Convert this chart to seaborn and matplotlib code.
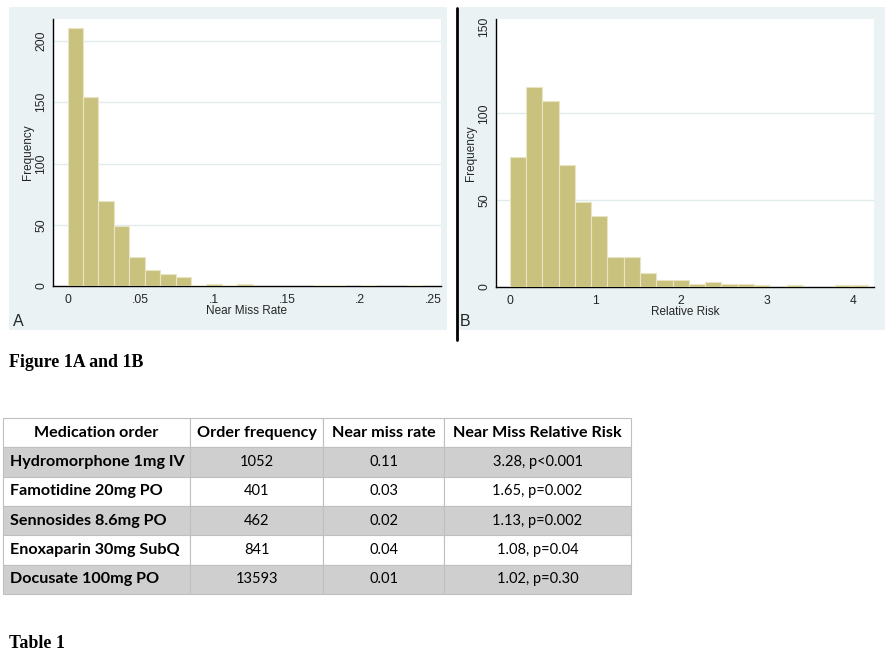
import matplotlib
matplotlib.use("Agg")

import numpy as np
import pandas as pd
import matplotlib.pyplot as plt
import seaborn as sns
from matplotlib.patches import Rectangle
from matplotlib.lines import Line2D

# Figure 1A: near miss rate histogram (counts per bin)
rate_bin_width = 0.01055
rate_counts = [211, 154, 69, 49, 24, 13, 10, 7, 1, 2, 1, 2,
               0, 0, 0, 0, 1, 1, 0, 1, 0, 0, 1]
rate_ticks = [0, 0.05, 0.1, 0.15, 0.2, 0.25]
rate_tick_labels = ["0", ".05", ".1", ".15", ".2", ".25"]
freq_ticks_a = [0, 50, 100, 150, 200]

# Figure 1B: relative risk histogram
rr_bin_width = 0.19
rr_counts = [75, 115, 107, 70, 49, 41, 17, 17, 8, 4, 4, 2,
             3, 2, 2, 1, 0, 1, 0, 0, 1, 1]
rr_ticks = [0, 1, 2, 3, 4]
freq_ticks_b = [0, 50, 100, 150]

# Table 1
table_header = ["Medication order", "Order frequency", "Near miss rate",
                "Near Miss Relative Risk"]
medications = ["Hydromorphone 1mg IV", "Famotidine 20mg PO", "Sennosides 8.6mg PO",
               "Enoxaparin 30mg SubQ", "Docusate 100mg PO"]
order_freq = [1052, 401, 462, 841, 13593]
near_miss_rate = [0.11, 0.03, 0.02, 0.04, 0.01]
relative_risk = ["3.28, p<0.001", "1.65, p=0.002", "1.13, p=0.002",
                 "1.08, p=0.04", "1.02, p=0.30"]

W, H = 892, 660
BAR = "#c9c27f"
BAR_EDGE = "#e9e5c4"
PANEL_BG = "#eaf2f3"
GRID = "#e2ecee"
STATA_FONT = "Liberation Sans"

sns.set_style("white")
plt.rcParams["font.family"] = [STATA_FONT, "DejaVu Sans"]

fig = plt.figure(figsize=(W / 100, H / 100), dpi=100)
fig.patch.set_facecolor("white")


def px_axes(x0, y0, x1, y1):
    return fig.add_axes([x0 / W, 1 - y1 / H, (x1 - x0) / W, (y1 - y0) / H])


def px_text(x, y, s, **kw):
    fig.text(x / W, 1 - y / H, s, **kw)


# panel backgrounds (Stata s2color style), drawn under the axes
for x0, x1 in [(9, 447), (459, 885)]:
    fig.patches.append(Rectangle((x0 / W, 1 - 330 / H), (x1 - x0) / W, 323 / H,
                                 transform=fig.transFigure, facecolor=PANEL_BG,
                                 edgecolor="none", zorder=-5))

# divider line between the panels
fig.add_artist(Line2D([457 / W, 457 / W], [1 - 8 / H, 1 - 340 / H],
                      transform=fig.transFigure, color="black", lw=2))


def stata_hist(ax, counts, width, xlim, ylim, xticks, xlabels, yticks, xlabel, grid_ticks):
    edges = np.arange(len(counts) + 1) * width
    df = pd.DataFrame({"value": edges[:-1] + width / 2, "count": counts})
    sns.histplot(data=df, x="value", weights="count", bins=list(edges), ax=ax,
                 color=BAR, alpha=1, edgecolor=BAR_EDGE, linewidth=0.8, zorder=3)
    ax.set_facecolor("white")
    ax.set_xlim(*xlim)
    ax.set_ylim(*ylim)
    for g in grid_ticks:
        ax.axhline(g, color=GRID, lw=1, zorder=1)
    ax.set_xticks(xticks)
    ax.set_xticklabels(xlabels)
    ax.set_yticks(yticks)
    ax.set_yticklabels([str(t) for t in yticks], rotation=90, va="center")
    ax.tick_params(axis="both", direction="out", length=3.5, width=1, color="black",
                   labelsize=8.7)
    ax.tick_params(axis="x", pad=2)
    ax.tick_params(axis="y", pad=0.8)
    for side in ["top", "right"]:
        ax.spines[side].set_visible(False)
    for side in ["left", "bottom"]:
        ax.spines[side].set_color("black")
        ax.spines[side].set_linewidth(1)
    ax.set_xlabel(xlabel, fontsize=8.5, labelpad=-0.5)
    ax.set_ylabel("Frequency", fontsize=8.5, labelpad=0.5)


ax_a = px_axes(53, 19, 441, 286)
stata_hist(ax_a, rate_counts, rate_bin_width, (-0.010, 0.2553), (0, 218),
           rate_ticks, rate_tick_labels, freq_ticks_a, "Near Miss Rate", [50, 100, 150, 200])

ax_b = px_axes(496, 19, 874, 287)
stata_hist(ax_b, rr_counts, rr_bin_width, (-0.159, 4.249), (0, 154.4),
           rr_ticks, [str(t) for t in rr_ticks], freq_ticks_b, "Relative Risk", [50, 100])

px_text(13, 326, "A", fontsize=11.5, va="baseline")
px_text(460, 326, "B", fontsize=11.5, va="baseline")

# captions
px_text(9, 367, "Figure 1A and 1B", family="Liberation Serif", fontweight="bold",
        fontsize=12.9, va="baseline", color="black")
px_text(9, 648, "Table 1", family="Liberation Serif", fontweight="bold",
        fontsize=12.9, va="baseline", color="black")

# Table 1
ax_t = px_axes(3, 418, 631, 594)
ax_t.axis("off")
cell_text = [[m, str(f), f"{r:.2f}", rr] for m, f, r, rr in
             zip(medications, order_freq, near_miss_rate, relative_risk)]
col_w = np.array([187, 133, 121, 187], dtype=float)
tbl = ax_t.table(cellText=cell_text, colLabels=table_header, cellLoc="center",
                 colWidths=list(col_w / col_w.sum()), bbox=[0, 0, 1, 1])
tbl.auto_set_font_size(False)
for (r, c), cell in tbl.get_celld().items():
    txt = cell.get_text()
    cell.set_edgecolor("#bfbfbf")
    cell.set_linewidth(0.8)
    txt.set_family(["Lato", "DejaVu Sans"])
    txt.set_color("black")
    txt.set_fontsize(10.5)
    if r == 0:
        cell.set_facecolor("white")
    else:
        cell.set_facecolor("#cfcfcf" if r % 2 == 1 else "white")
    if r == 0 or c == 0:
        txt.set_fontweight("bold")
        txt.set_fontsize(11.6)
    if r > 0 and c == 0:
        txt.set_ha("left")
        cell.PAD = 0.035

fig.savefig("out.png", dpi=100)
plt.close(fig)
